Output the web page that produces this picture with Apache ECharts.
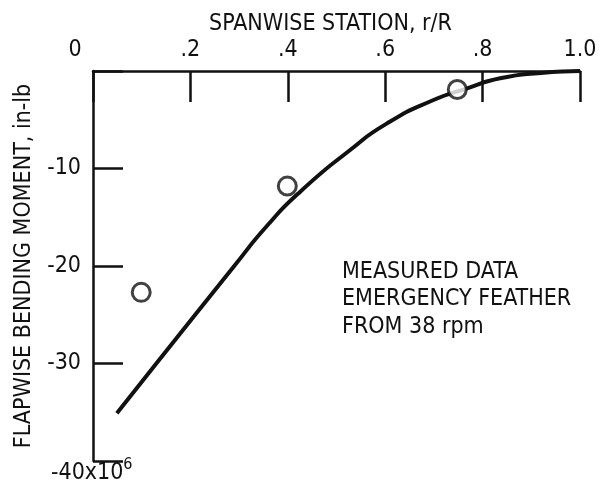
<!DOCTYPE html>
<html>
<head>
<meta charset="utf-8">
<script src="https://cdn.jsdelivr.net/npm/echarts@6/dist/echarts.min.js"></script>
<style>
  html, body { margin: 0; padding: 0; background: #fff; }
  #chart { width: 600px; height: 493px; }
</style>
</head>
<body>
<div id="chart"></div>
<script>
// calculated curve
const curveX = [0.049, 0.13, 0.29, 0.357, 0.425, 0.528, 0.603, 0.698, 0.767, 0.836, 0.92, 1.0];
const curveY = [-35.1, -30, -20, -15.9, -12.4, -8.1, -5.4, -3.0, -1.8, -0.75, -0.2, 0];
// measured points (circles)
const measuredX = [0.099, 0.399, 0.748];
const measuredY = [-22.7, -11.8, -1.9];

const xTickLabels = ["0", ".2", ".4", ".6", ".8", "1.0"];
const yTickLabels = ["-40", "-30", "-20", "-10", "0"];
const noteLines = ["MEASURED DATA", "EMERGENCY FEATHER", "FROM 38 rpm"];

const font = "'DejaVu Sans Condensed', 'Liberation Sans Narrow', 'DejaVu Sans', sans-serif";

const myChart = echarts.init(document.getElementById("chart"));

const option = {
  backgroundColor: "#fff",
  animation: false,
  title: {
    text: "SPANWISE STATION, r/R",
    left: 204,
    top: 8,
    textStyle: { fontFamily: font, fontSize: 23, fontWeight: "normal", color: "#111" },
  },
  grid: { left: 93, right: 20, top: 71, bottom: 32 },
  xAxis: {
    type: "value",
    position: "top",
    min: 0,
    max: 1,
    interval: 0.2,
    axisLine: { show: true, lineStyle: { color: "#111", width: 2.5 } },
    axisTick: { show: true, inside: true, length: 31, lineStyle: { color: "#111", width: 2.5 } },
    splitLine: { show: false },
    axisLabel: {
      margin: 9,
      fontFamily: font,
      fontSize: 23,
      color: "#111",
      formatter: function (v) {
        const i = Math.round(v / 0.2);
        if (i === 0) return "{z|" + xTickLabels[0] + "}";
        return xTickLabels[i];
      },
      rich: {
        z: { fontFamily: font, fontSize: 23, color: "#111", padding: [0, 36, 0, 0] },
      },
    },
  },
  yAxis: {
    type: "value",
    min: -40,
    max: 0,
    interval: 10,
    name: "FLAPWISE BENDING MOMENT, in-lb",
    nameLocation: "middle",
    nameRotate: 90,
    nameGap: 57,
    nameTextStyle: { fontFamily: font, fontSize: 23, color: "#111" },
    axisLine: { show: true, lineStyle: { color: "#111", width: 2.5 } },
    axisTick: { show: true, inside: true, length: 30, lineStyle: { color: "#111", width: 2.5 } },
    splitLine: { show: false },
    axisLabel: {
      margin: 12,
      fontFamily: font,
      fontSize: 23,
      color: "#111",
      formatter: function (v) {
        if (v === -40 || v === 0) return "";
        return yTickLabels[Math.round((v + 40) / 10)];
      },
    },
  },
  graphic: [
    {
      type: "text",
      left: 51,
      top: 457,
      style: {
        text: "{a|" + yTickLabels[0] + "x10}{b|6}",
        rich: {
          a: { fontFamily: font, fontSize: 23, fill: "#111", verticalAlign: "bottom" },
          b: { fontFamily: font, fontSize: 16, fill: "#111", padding: [0, 0, 12, 0] },
        },
      },
    },
    {
      type: "text",
      left: 342,
      top: 258,
      style: {
        text: noteLines.join("\n"),
        fontFamily: font,
        fontSize: 23,
        lineHeight: 27.5,
        fill: "#111",
      },
    },
  ],
  series: [
    {
      name: "calculated",
      type: "line",
      smooth: 0.6,
      showSymbol: false,
      data: curveX.map((x, i) => [x, curveY[i]]),
      lineStyle: { color: "#111", width: 4 },
    },
    {
      name: "measured",
      type: "scatter",
      symbol: "circle",
      symbolSize: 18,
      data: measuredX.map((x, i) => [x, measuredY[i]]),
      itemStyle: { color: "#fff", borderColor: "#111", borderWidth: 3 },
      z: 5,
    },
  ],
};
myChart.setOption(option);
</script>
</body>
</html>
